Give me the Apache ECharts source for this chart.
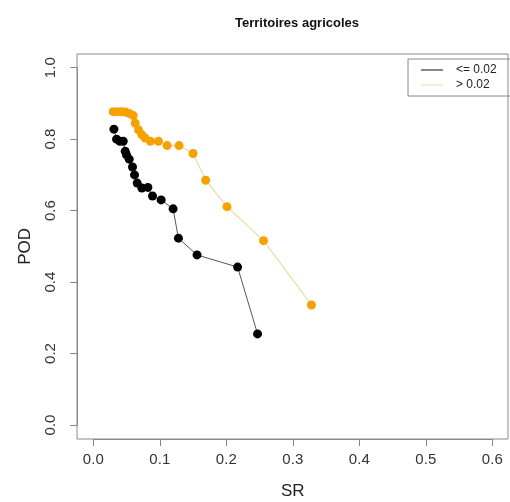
<!DOCTYPE html>
<html><head><meta charset="utf-8">
<script src="https://cdn.jsdelivr.net/npm/echarts@6/dist/echarts.min.js"></script>
<style>html,body{margin:0;padding:0;background:#fff}#c{width:510px;height:502px}</style>
</head><body><div id="c"></div>
<script>
const lowSR  = [0.031,0.035,0.040,0.045,0.048,0.050,0.054,0.059,0.062,0.066,0.073,0.082,0.089,0.102,0.120,0.128,0.156,0.217,0.247];
const lowPOD = [0.828,0.800,0.794,0.794,0.766,0.756,0.744,0.722,0.700,0.677,0.663,0.665,0.641,0.630,0.605,0.523,0.476,0.442,0.255];
const highSR  = [0.030,0.036,0.042,0.048,0.054,0.060,0.063,0.068,0.073,0.078,0.086,0.098,0.111,0.129,0.150,0.169,0.201,0.256,0.328];
const highPOD = [0.877,0.877,0.877,0.876,0.872,0.866,0.845,0.826,0.812,0.803,0.794,0.794,0.782,0.782,0.760,0.685,0.611,0.516,0.336];
const xTicks = [0,0.1,0.2,0.3,0.4,0.5,0.6];
const yTicks = [0,0.2,0.4,0.6,0.8,1.0];
const legendNames = ['<= 0.02','> 0.02'];

const chart = echarts.init(document.getElementById('c'));
const pair = (xs, ys) => xs.map((x,i)=>[x, ys[i]]);
const font = 'Liberation Sans, Arial, sans-serif';
chart.setOption({
  animation:false,
  title:{text:'Territoires agricoles', left:292, top:12, textAlign:'center',
    textStyle:{fontFamily:font, fontWeight:'bold', fontSize:13, color:'#111'}},
  grid:[
    {left:77, top:54, width:431, height:385, show:true, borderColor:'#8a8a8a', borderWidth:1,
      backgroundColor:'transparent', containLabel:false, outerBoundsMode:'none'},
    {left:93.3, top:67.7, width:399, height:357.3, containLabel:false, outerBoundsMode:'none'}
  ],
  xAxis:[
    {gridIndex:0, type:'value', show:false, min:0, max:1},
    {gridIndex:1, type:'value', min:xTicks[0], max:xTicks[xTicks.length-1], interval:0.1, offset:14,
      name:'SR', nameLocation:'middle', nameGap:44,
      nameTextStyle:{fontFamily:font, fontSize:17, color:'#222'},
      axisLine:{show:true, onZero:false, lineStyle:{color:'#888'}},
      axisTick:{show:true, length:7, lineStyle:{color:'#888'}},
      splitLine:{show:false},
      axisLabel:{fontFamily:font, fontSize:15, color:'#333', margin:13, formatter:v=>v.toFixed(1)}}
  ],
  yAxis:[
    {gridIndex:0, type:'value', show:false, min:0, max:1},
    {gridIndex:1, type:'value', min:yTicks[0], max:yTicks[yTicks.length-1], interval:0.2, offset:16,
      name:'POD', nameLocation:'middle', nameGap:43,
      nameTextStyle:{fontFamily:font, fontSize:17, color:'#222'},
      axisLine:{show:true, onZero:false, lineStyle:{color:'#888'}},
      axisTick:{show:true, length:7, lineStyle:{color:'#888'}},
      splitLine:{show:false},
      axisLabel:{fontFamily:font, fontSize:15, color:'#333', margin:19, rotate:90, formatter:v=>v.toFixed(1)}}
  ],
  legend:{
    data:[{name:legendNames[0], itemStyle:{color:'#111'}}, {name:legendNames[1], itemStyle:{color:'#dfe3a6'}}],
    orient:'vertical', left:408, top:59, itemWidth:22, itemHeight:1, itemGap:3,
    icon:'rect', padding:[5,50,5,13], borderColor:'#888', borderWidth:1, borderRadius:0,
    textStyle:{fontFamily:font, fontSize:12, color:'#222', padding:[0,0,0,8]}
  },
  series:[
    {name:legendNames[0], type:'line', xAxisIndex:1, yAxisIndex:1, data:pair(lowSR, lowPOD),
      symbol:'circle', symbolSize:9, itemStyle:{color:'#000'}, lineStyle:{color:'#555', width:1}},
    {name:legendNames[1], type:'line', xAxisIndex:1, yAxisIndex:1, data:pair(highSR, highPOD),
      symbol:'circle', symbolSize:9, itemStyle:{color:'#f5a200'}, lineStyle:{color:'#e3dfa8', width:1.2}}
  ]
});
</script></body></html>
